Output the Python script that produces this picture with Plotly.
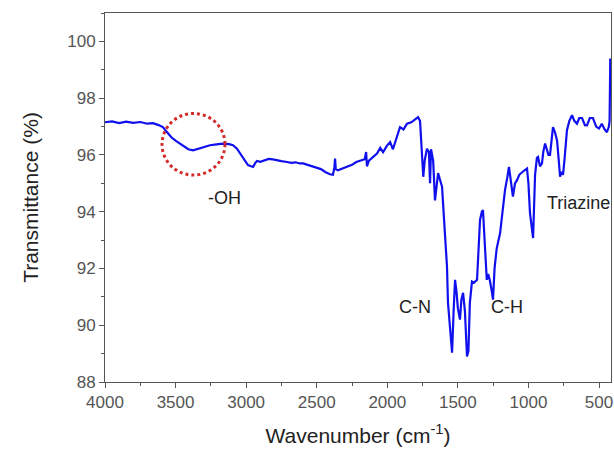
import plotly.graph_objects as go

wavenumber = [4000, 3950, 3900, 3850, 3800, 3750, 3700, 3660, 3620, 3590, 3560, 3530, 3500, 3470,
              3440, 3410, 3376, 3340, 3300, 3256, 3210, 3164, 3120, 3093, 3065, 3043, 3015, 2987,
              2965, 2951, 2935, 2923, 2900, 2870, 2840, 2810, 2780, 2750, 2710, 2680, 2650, 2620,
              2597, 2560, 2530, 2498, 2470, 2440, 2406, 2385, 2375, 2370, 2365, 2350, 2320, 2285,
              2250, 2220, 2193, 2160, 2150, 2144, 2130, 2100, 2073, 2050, 2030, 2002, 1980, 1960,
              1940, 1910, 1885, 1860, 1830, 1800, 1782, 1768, 1755, 1745, 1735, 1719, 1705, 1697,
              1690, 1675, 1662, 1650, 1640, 1625, 1612, 1595, 1577, 1570, 1560, 1548, 1541, 1530,
              1520, 1510, 1500, 1485, 1475, 1463, 1450, 1440, 1435, 1425, 1415, 1400, 1385, 1364,
              1350, 1343, 1330, 1322, 1315, 1308, 1295, 1285, 1272, 1260, 1251, 1240, 1225, 1201,
              1185, 1166, 1150, 1138, 1125, 1110, 1095, 1081, 1065, 1046, 1030, 1010, 1000, 989,
              975, 967, 960, 953, 940, 932, 918, 904, 895, 882, 870, 858, 847, 836, 826, 812, 797,
              785, 776, 765, 755, 745, 735, 727, 710, 691, 675, 656, 640, 620, 600, 585, 565, 543,
              520, 500, 480, 460, 444, 430, 425, 422, 420]
transmittance = [97.15, 97.18, 97.12, 97.17, 97.13, 97.16, 97.10, 97.12, 97.05, 96.98, 96.80, 96.62,
                 96.50, 96.40, 96.28, 96.20, 96.16, 96.22, 96.28, 96.34, 96.37, 96.40, 96.38, 96.34,
                 96.22, 96.05, 95.85, 95.64, 95.60, 95.58, 95.72, 95.79, 95.76, 95.82, 95.86, 95.84,
                 95.80, 95.78, 95.75, 95.72, 95.74, 95.70, 95.70, 95.64, 95.58, 95.52, 95.50, 95.40,
                 95.32, 95.30, 95.55, 95.87, 95.50, 95.46, 95.52, 95.60, 95.65, 95.75, 95.80, 95.85,
                 96.10, 95.60, 95.80, 95.95, 96.05, 96.25, 96.10, 96.33, 96.45, 96.20, 96.55, 96.98,
                 96.90, 97.10, 97.15, 97.25, 97.33, 97.20, 96.20, 95.23, 95.80, 96.22, 96.10, 95.00,
                 96.20, 95.80, 94.40, 95.00, 95.36, 95.10, 94.88, 93.50, 92.07, 90.79, 90.20, 89.60,
                 89.03, 90.50, 91.60, 91.20, 90.60, 90.20, 90.90, 91.14, 90.50, 89.40, 88.90, 89.10,
                 90.80, 91.54, 91.50, 91.60, 92.80, 93.71, 94.00, 94.06, 93.40, 92.66, 91.60, 91.80,
                 91.55, 91.20, 90.90, 92.00, 92.70, 93.24, 94.00, 94.76, 95.20, 95.58, 95.10, 94.53,
                 95.00, 95.11, 95.30, 95.40, 95.45, 95.52, 95.00, 93.95, 93.40, 93.07, 94.20, 95.30,
                 95.90, 95.93, 95.60, 95.70, 96.10, 96.40, 96.20, 96.00, 96.00, 96.60, 96.98, 96.80,
                 96.50, 95.80, 95.23, 95.40, 95.30, 95.80, 96.40, 96.87, 97.20, 97.40, 97.20, 97.10,
                 97.30, 97.30, 97.05, 97.04, 97.30, 97.30, 97.00, 96.93, 97.10, 96.90, 96.80, 97.00,
                 97.20, 98.00, 99.40]

label_text = ["-OH", "C-N", "C-H", "Triazine"]
label_x = [3150, 1804, 1155, 883]
label_y = [94.48, 90.66, 90.66, 94.30]
label_anchor = ["center", "center", "center", "left"]

x_ticks = [4000, 3500, 3000, 2500, 2000, 1500, 1000, 500]
y_ticks = [88, 90, 92, 94, 96, 98, 100]

FONT = "Liberation Sans, Arial"

fig = go.Figure()
fig.add_trace(go.Scatter(x=wavenumber, y=transmittance, mode="lines",
                         line=dict(color="#1010ee", width=2.2), showlegend=False))

fig.add_shape(type="circle", xref="x", yref="y", x0=3596, x1=3150, y0=95.29, y1=97.46,
              line=dict(color="#d42a2a", width=3, dash="dot"))

for t, x, y, a in zip(label_text, label_x, label_y, label_anchor):
    fig.add_annotation(x=x, y=y, text=t, showarrow=False, xanchor=a,
                       font=dict(family=FONT, size=18, color="#222"))

axis_common = dict(showline=True, linecolor="#555", linewidth=1, mirror=True, automargin=False,
                   ticks="outside", ticklen=5, tickcolor="#555", showgrid=False, zeroline=False,
                   tickfont=dict(family=FONT, size=17, color="#555"))

fig.update_xaxes(range=[4000, 415], tickvals=x_ticks, ticktext=[str(v) for v in x_ticks],
                 minor=dict(dtick=250, tick0=0, ticks="outside", ticklen=3, tickcolor="#555"),
                 title=dict(text="Wavenumber (cm<sup>-1</sup>)", standoff=16,
                            font=dict(family=FONT, size=21, color="#222")),
                 **axis_common)
fig.update_yaxes(range=[88, 101], tickvals=y_ticks, ticktext=[str(v) for v in y_ticks],
                 minor=dict(dtick=1, tick0=0, ticks="outside", ticklen=3, tickcolor="#555"),
                 title=dict(text="Transmittance (%)", standoff=22,
                            font=dict(family=FONT, size=21, color="#222")),
                 **axis_common)

fig.update_layout(width=614, height=457, margin=dict(l=105, r=3, t=13, b=75),
                  plot_bgcolor="white", paper_bgcolor="white")

fig.write_html("out.html", config={"displayModeBar": False},
               post_script="document.body.style.margin='0';document.body.style.overflow='hidden';")
